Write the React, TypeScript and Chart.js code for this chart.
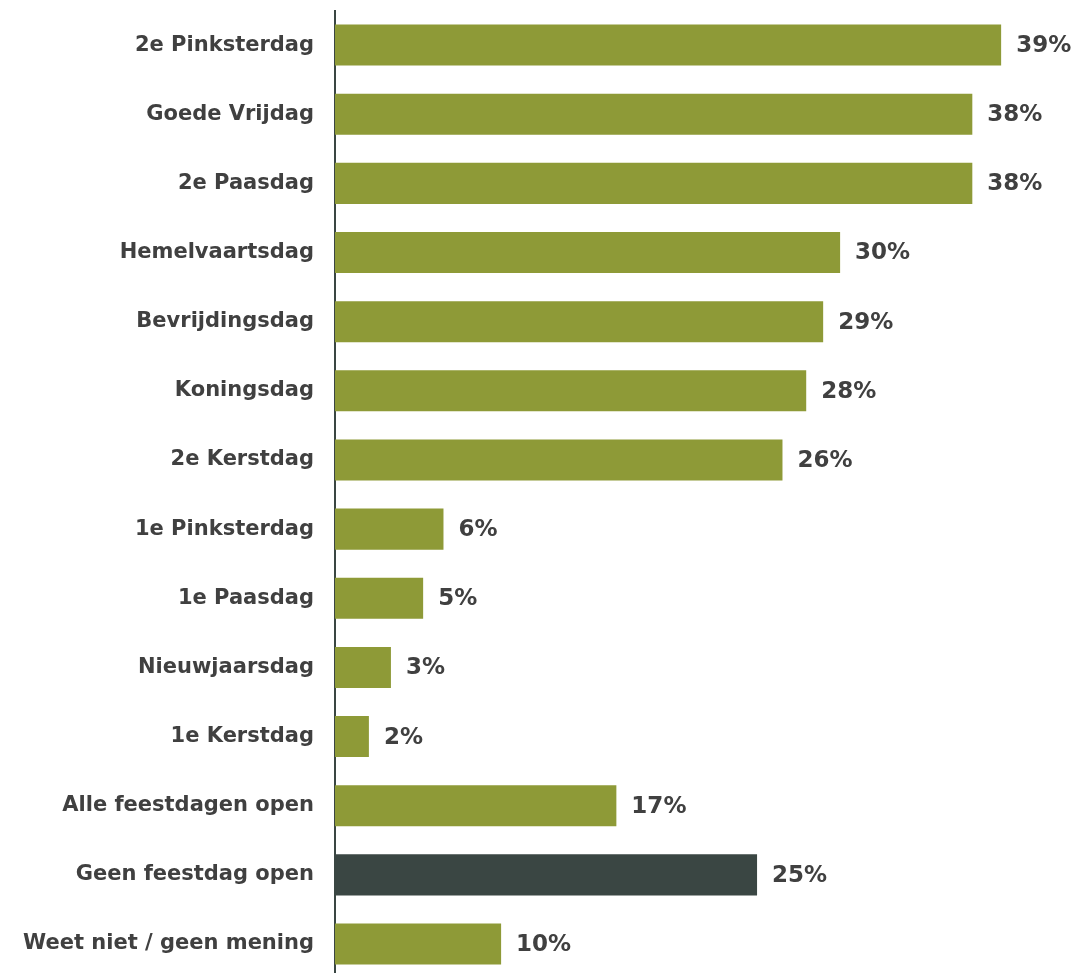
import React, { useEffect, useRef } from "react";
import { Chart, registerables } from "chart.js";

Chart.register(...registerables);

const categories = [
  "2e Pinksterdag",
  "Goede Vrijdag",
  "2e Paasdag",
  "Hemelvaartsdag",
  "Bevrijdingsdag",
  "Koningsdag",
  "2e Kerstdag",
  "1e Pinksterdag",
  "1e Paasdag",
  "Nieuwjaarsdag",
  "1e Kerstdag",
  "Alle feestdagen open",
  "Geen feestdag open",
  "Weet niet / geen mening",
];

const values = [39.3, 37.6, 37.6, 29.8, 28.8, 27.8, 26.4, 6.4, 5.2, 3.3, 2.0, 16.6, 24.9, 9.8];

const valueLabels = ["39%", "38%", "38%", "30%", "29%", "28%", "26%", "6%", "5%", "3%", "2%", "17%", "25%", "10%"];

const OLIVE = "#8E9A37";
const DARK = "#3A4643";
const TEXT = "#404040";
const FONT = "'DejaVu Sans', Verdana, sans-serif";

const barColors = categories.map((c) => (c === "Geen feestdag open" ? DARK : OLIVE));

const valueLabelPlugin = {
  id: "valueLabels",
  afterDatasetsDraw(chart: any) {
    const { ctx } = chart;
    const meta = chart.getDatasetMeta(0);
    ctx.save();
    ctx.fillStyle = TEXT;
    ctx.font = `bold 23px ${FONT}`;
    ctx.textAlign = "left";
    ctx.textBaseline = "middle";
    meta.data.forEach((bar: any, i: number) => {
      ctx.fillText(valueLabels[i], bar.x + 15, bar.y + 1);
    });
    ctx.restore();
  },
};

export default function App() {
  const ref = useRef<HTMLCanvasElement | null>(null);

  useEffect(() => {
    document.body.style.margin = "0";
    document.documentElement.style.overflow = "hidden";
    const canvas = ref.current;
    if (!canvas) return;
    const chart = new Chart(canvas, {
      type: "bar",
      data: {
        labels: categories,
        datasets: [
          {
            data: values,
            backgroundColor: barColors,
            borderWidth: 0,
            categoryPercentage: 1,
            barPercentage: 0.593,
          },
        ],
      },
      options: {
        indexAxis: "y",
        animation: false,
        responsive: false,
        maintainAspectRatio: false,
        layout: { padding: { top: 10.5, bottom: 3.4, left: 0, right: 64 } },
        plugins: {
          legend: { display: false },
          tooltip: { enabled: false },
        },
        scales: {
          x: {
            display: false,
            min: 0,
            max: 40,
          },
          y: {
            afterFit: (s: any) => {
              s.width = 335;
              s.paddingTop = 0;
              s.paddingBottom = 0;
            },
            grid: { display: false, drawTicks: false },
            border: { display: true, color: DARK, width: 2 },
            ticks: {
              padding: 21,
              color: TEXT,
              font: { family: FONT, size: 21, weight: "bold" },
            },
          },
        },
      },
      plugins: [valueLabelPlugin],
    });
    return () => chart.destroy();
  }, []);

  return (
    <div style={{ width: 1077, height: 973, overflow: "hidden", background: "#fff" }}>
      <canvas ref={ref} width={1077} height={982} style={{ display: "block" }} />
    </div>
  );
}
